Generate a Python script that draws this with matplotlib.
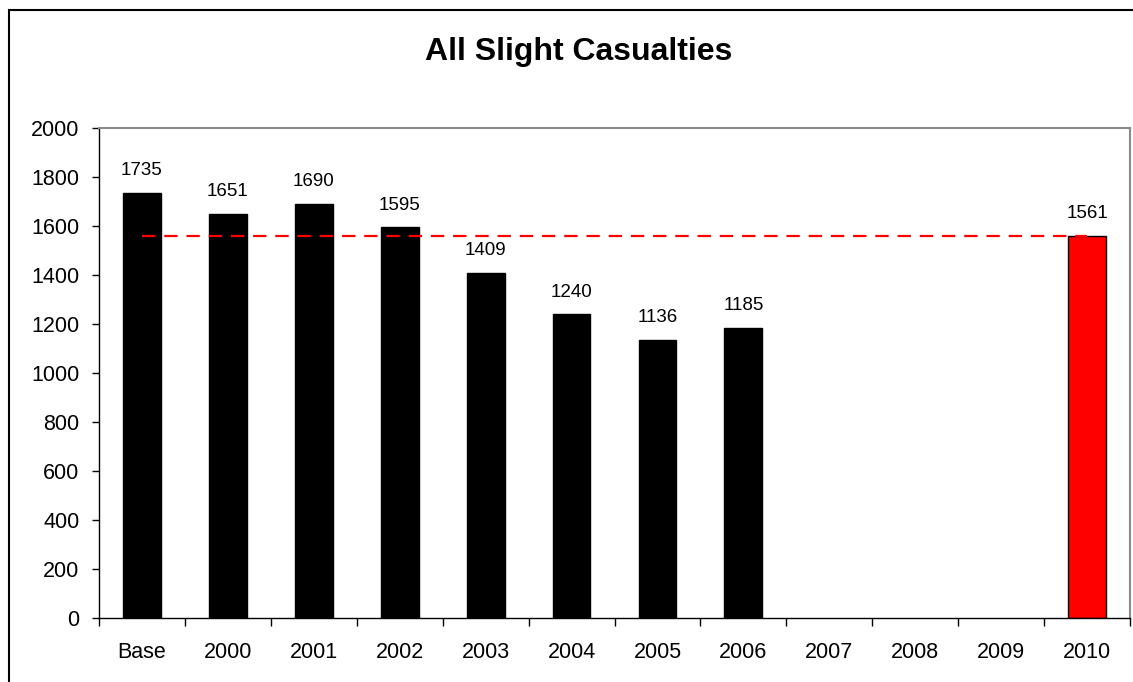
import matplotlib.pyplot as plt
from matplotlib.patches import Rectangle

plt.rcParams['font.family'] = ['Liberation Sans', 'DejaVu Sans']

categories = ['Base', '2000', '2001', '2002', '2003', '2004', '2005', '2006',
              '2007', '2008', '2009', '2010']
values = [1735, 1651, 1690, 1595, 1409, 1240, 1136, 1185, None, None, None, 1561]
target = 1561
title = 'All Slight Casualties'

fig = plt.figure(figsize=(11.33, 6.82), dpi=100)
ax = fig.add_axes([99 / 1133, 1 - 618 / 682, 1031 / 1133, 490 / 682])

# outer chart border (right/bottom fall outside the picture)
fig.patches.append(Rectangle((9 / 1133, -0.1), 1.2, 1 - 10 / 682 + 0.1,
                             transform=fig.transFigure, fill=False,
                             edgecolor='black', lw=1.5))

for i, v in enumerate(values):
    if v is None:
        continue
    colour = 'red' if categories[i] == '2010' else 'black'
    ax.bar(i, v, width=0.44, color=colour, edgecolor='black', lw=1, zorder=2)
    ax.text(i, v + 55, str(v), ha='center', va='bottom', fontsize=13.5)

ax.plot([0, len(categories) - 1], [target, target], color='red', lw=1.6,
        dashes=(6, 4), zorder=3)

ax.set_xlim(-0.5, len(categories) - 0.5)
ax.set_ylim(0, 2000)
ax.set_yticks(range(0, 2001, 200))
ax.set_xticks(range(len(categories)))
ax.set_xticklabels(categories)
ax.set_xticks([i - 0.5 for i in range(len(categories) + 1)], minor=True)
ax.tick_params(axis='x', which='major', length=0, pad=17, labelsize=15.5)
ax.tick_params(axis='x', which='minor', length=6, width=1, direction='out')
ax.tick_params(axis='y', length=5, width=1, pad=9, labelsize=15.5)

for s in ['top', 'right']:
    ax.spines[s].set_color('#8a8a8a')
    ax.spines[s].set_linewidth(1.5)
for s in ['left', 'bottom']:
    ax.spines[s].set_color('black')
    ax.spines[s].set_linewidth(1)

fig.text(579 / 1133, 1 - 52 / 682, title, ha='center', va='center',
         fontsize=23, fontweight='bold')

fig.savefig('out.png', dpi=100)
